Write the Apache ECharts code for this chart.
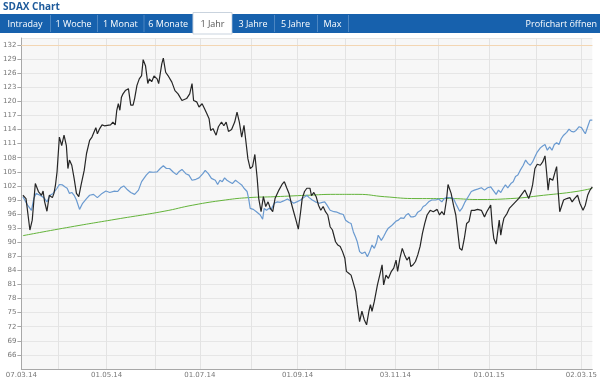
<!DOCTYPE html>
<html><head><meta charset="utf-8">
<script src="https://cdn.jsdelivr.net/npm/echarts@6/dist/echarts.min.js"></script>
<style>html,body{margin:0;padding:0;background:#fff}#c{width:600px;height:381px}</style>
</head><body><div id="c"></div>
<script>
// x values are calendar days counted from 07.03.14
const labelDays = [0, 55, 115, 178, 241, 301.5, 361];
const labelTexts = ['07.03.14', '01.05.14', '01.07.14', '01.09.14', '03.11.14', '01.01.15', '02.03.15'];
const monthDays = [24, 55, 86, 115, 148, 178, 208.5, 241, 269, 301.5, 332, 361];
const tabs = ['Intraday', '1 Woche', '1 Monat', '6 Monate', '1 Jahr', '3 Jahre', '5 Jahre', 'Max'];
const activeTab = '1 Jahr';

const blackData = [[1,100.0],[3,99.3],[5.5,92.6],[7,94.7],[9,102.5],[11,100.8],[13,100.0],[14,100.9],[15,98.6],[16.5,96.6],[18,100.0],[20,99.5],[21,100.4],[22,102.2],[23,105.0],[24.5,112.4],[26,110.6],[27.5,112.8],[29,110.6],[30,105.7],[31,107.5],[32.5,106.4],[34,103.6],[35.5,100.4],[37,99.7],[38.5,102.2],[40.5,105.3],[42,108.9],[44,111.7],[45.5,112.4],[46.5,112.1],[48,114.4],[49,113.1],[50.5,114.2],[52,115.0],[53.5,114.8],[55.5,114.9],[57.5,115.0],[59,115.6],[60.5,115.0],[61.5,118.1],[62.5,119.5],[63.5,118.1],[64.5,120.9],[65.5,121.6],[67,122.3],[69,122.7],[70.5,119.2],[72,119.2],[73,120.6],[74.5,123.4],[76,124.8],[77.5,125.5],[78.5,128.9],[80,127.6],[81.5,123.8],[82.5,124.8],[84,124.2],[85.5,125.4],[87.5,124.8],[88.5,123.8],[90.5,128.0],[91.5,129.2],[93,126.2],[94.5,125.5],[97,124.1],[99,122.3],[101,121.6],[103.5,120.2],[106.5,120.6],[108.5,121.6],[110,123.8],[111,120.2],[113,119.9],[114.5,118.8],[116.5,119.5],[118,118.5],[119.5,117.4],[121,116.3],[122,113.8],[123.5,114.2],[125.5,112.8],[127,114.6],[129,115.6],[130.5,114.8],[132,115.6],[133.5,113.6],[135.5,114.0],[137.5,115.6],[139,117.7],[140.5,115.6],[142,112.4],[143.5,114.9],[144.5,112.1],[146,107.8],[147.5,105.7],[149,106.1],[150.5,108.7],[152,103.6],[153,99.3],[154.5,96.5],[156,99.7],[157.5,97.6],[159,98.6],[160.5,97.2],[162,96.5],[163.5,99.3],[166,101.1],[168,102.3],[169.5,102.9],[171,101.6],[172.5,100.4],[174,98.3],[175.5,96.5],[177,94.7],[178.5,92.8],[180,96.5],[181,99.3],[182.5,100.8],[184,101.5],[186,101.5],[187,99.9],[188.5,100.6],[190,99.7],[191.5,97.9],[193,96.8],[194.5,97.6],[196,96.5],[197.5,95.8],[199,93.3],[200.5,92.6],[202.5,90.1],[204,89.4],[205.5,89.1],[207,88.0],[208.5,86.6],[209.5,83.8],[211,83.4],[212.5,83.0],[214,81.3],[215.5,79.5],[216.5,76.7],[218,73.1],[219.5,75.3],[221,73.5],[222.5,72.4],[224,75.3],[225,76.7],[226,75.3],[227.5,77.4],[229.5,80.9],[231,83.0],[232.5,85.2],[233.5,80.9],[235,83.0],[236.5,82.3],[238.5,83.8],[240,84.5],[241.5,86.2],[242.5,83.8],[244,86.6],[245.5,88.7],[247,87.3],[248.5,86.2],[250,86.9],[251,84.8],[252.5,85.2],[254,85.9],[255.5,87.3],[257,89.1],[258.5,91.9],[260,94.0],[261.5,95.8],[263.5,96.8],[265.5,96.5],[268,97.0],[269.5,95.8],[271,96.5],[272.5,95.8],[274,99.0],[275,102.3],[277,100.4],[278.5,97.9],[280,95.8],[281,93.0],[282.5,88.7],[284,88.3],[285.5,90.8],[287,94.0],[288.5,94.4],[290,96.8],[292,96.8],[294,97.0],[296.5,96.8],[298.5,95.4],[300,96.5],[302.5,97.9],[303.5,93.6],[304.5,90.8],[306,89.6],[307,89.8],[308,94.7],[309,91.5],[310,93.6],[311,95.1],[313,96.1],[314.5,97.2],[316.5,97.9],[318.5,98.6],[320.5,99.3],[322.5,100.2],[324.5,101.1],[325.5,101.5],[327,99.3],[328.5,100.8],[329.5,102.2],[331,105.7],[332.5,106.6],[334.5,106.4],[336,107.1],[337.5,108.4],[338.5,105.0],[339.5,101.1],[340.5,103.6],[342.5,103.2],[344,105.0],[345,106.1],[346,100.8],[347,96.5],[348,96.1],[349.5,99.0],[351.5,99.3],[353.5,99.5],[355,98.6],[356.5,99.3],[358.5,100.0],[360,98.3],[362,96.8],[363.5,97.9],[365,100.0],[366.5,101.1],[368,101.8]];

const blueData = [[1,99.7],[4,97.9],[6.5,96.8],[8,99.3],[9.5,100.4],[12,100.0],[14.5,99.5],[16.5,98.6],[18.5,100.0],[20.5,100.4],[23,101.5],[24.5,102.3],[26.5,102.2],[28,101.8],[29.5,101.5],[31,100.4],[32.5,100.6],[34,100.0],[35.5,99.0],[37.5,97.0],[39.5,98.3],[42,99.3],[44,100.0],[46.5,100.2],[49,99.5],[52,100.4],[54.5,100.9],[57,100.6],[60,100.9],[62,100.8],[64,101.6],[66,102.0],[68,101.3],[70.5,100.6],[73,100.2],[75.5,101.1],[77.5,102.9],[80.5,104.3],[82.5,105.0],[85,104.9],[87.5,105.0],[89.5,105.7],[91.5,106.3],[93.5,105.7],[95.5,105.7],[98,104.9],[100,104.4],[101.5,105.0],[103.5,105.5],[106,104.6],[108,104.3],[110,103.2],[112.5,103.4],[114.5,103.7],[117,104.6],[118.5,105.3],[120.5,104.6],[122.5,103.6],[125,103.2],[126.5,102.3],[128,103.2],[129.5,102.9],[131,103.7],[132.5,103.2],[134,102.9],[136,102.5],[138,103.2],[140,102.7],[142,102.2],[143.5,101.5],[145.5,100.8],[146.5,99.3],[147.5,97.2],[149.5,97.0],[151.5,96.5],[154,95.8],[155.5,94.9],[156.5,97.2],[158,96.8],[159.5,97.2],[161,97.0],[163,98.3],[165,98.6],[167,98.5],[169,98.8],[171.5,99.2],[173.5,98.8],[175.5,98.3],[177.5,98.6],[180,99.0],[182,99.5],[184,100.0],[185.5,99.5],[187.5,99.0],[189.5,98.6],[192,98.3],[194,98.5],[195.5,98.6],[197,97.9],[199,96.8],[201.5,96.5],[203.5,96.4],[205.5,96.1],[207.5,95.9],[209,94.7],[211,94.2],[212.5,94.0],[214,92.2],[215.5,91.0],[216.5,90.1],[218,88.0],[219.5,87.6],[221.5,87.9],[223,86.9],[224.5,88.0],[226,89.4],[227.5,88.7],[229,90.0],[230,91.5],[232,90.4],[233.5,91.2],[235,92.2],[236.5,93.0],[238.5,93.5],[240,94.0],[241.5,94.5],[243,94.7],[244.5,95.2],[246.5,95.1],[248,95.8],[249.5,96.1],[251,95.4],[252.5,95.4],[254,95.6],[255.5,96.4],[257.5,96.8],[259,97.6],[260.5,97.9],[262.5,98.6],[264.5,99.0],[267,99.0],[269,99.2],[271,98.6],[272.5,99.3],[274,99.5],[276.5,99.5],[278.5,99.3],[280.5,97.9],[282.5,96.6],[284,97.2],[286,98.6],[288,99.7],[290,100.8],[292,101.1],[294,101.3],[296.5,101.6],[298.5,101.1],[300.5,101.6],[302.5,101.8],[304.5,100.9],[306,100.2],[307.5,101.1],[309,100.6],[310.5,101.5],[312,102.2],[313.5,101.6],[315.5,102.5],[317,102.9],[318.5,104.0],[320,104.3],[321.5,105.3],[323.5,106.4],[325,107.5],[326.5,106.8],[328,106.4],[329.5,107.1],[331,108.2],[332.5,109.2],[334.5,110.1],[336,110.5],[337.5,110.8],[339,109.6],[340.5,110.3],[342,109.6],[343.5,110.8],[345,111.2],[346.5,110.8],[348,112.1],[349.5,112.8],[351.5,113.4],[353,114.1],[354.5,113.6],[356,113.5],[357.5,113.8],[359.5,114.6],[361,114.4],[362.5,113.6],[363.5,113.1],[365,114.6],[366.5,116.0],[368,116.0]];

const greenData = [[1,91.4],[29,93.1],[61,94.9],[92,96.6],[110.5,97.9],[131.5,99.0],[146.5,99.5],[163.5,99.7],[184,100.0],[202.5,100.2],[217,100.2],[234,99.7],[255,99.3],[276,99.3],[294,99.1],[315.5,99.3],[336.5,100.0],[357.5,100.8],[368,101.5]];

const tabEdges = [0, 50, 97, 143.5, 193, 232, 274, 317, 348];

const graphic = [
  {type:'text', left:3, top:2, style:{text:'SDAX Chart', font:'bold 10px "Open Sans"', fill:'#1d5a9b'}},
  {type:'rect', shape:{x:0, y:14, width:600, height:19}, style:{fill:'#1761ad'}}
];
tabs.forEach((t, i) => {
  const x0 = tabEdges[i], x1 = tabEdges[i+1];
  const active = t === activeTab;
  if (active) {
    graphic.push({type:'rect', shape:{x:x0, y:12.5, width:x1-x0, height:21.5}, style:{fill:'#ffffff', stroke:'#c9d3de', lineWidth:1}});
  }
  graphic.push({type:'line', shape:{x1:x1+0.5, y1:15, x2:x1+0.5, y2:32}, style:{stroke:'#4c86c2', lineWidth:1}});
  graphic.push({type:'text', x:(x0+x1)/2, y:24, style:{text:t, font:'9px "Open Sans"', fill: active ? '#555555' : '#ffffff', align:'center', verticalAlign:'middle'}});
});
graphic.push({type:'text', x:597, y:24, style:{text:'Profichart öffnen', font:'9px "Open Sans"', fill:'#ffffff', align:'right', verticalAlign:'middle'}});

const chart = echarts.init(document.getElementById('c'), null, {renderer:'canvas'});
chart.setOption({
  animation:false,
  backgroundColor:'#ffffff',
  graphic: graphic,
  grid:{left:19, right:0, top:38, bottom:12, show:true, backgroundColor:'#f7f7f7', borderWidth:0},
  xAxis:{
    type:'value', min:0, max:368,
    axisLine:{show:true, lineStyle:{color:'#a8a8a8'}},
    axisTick:{show:false, customValues: monthDays},
    splitLine:{show:true, lineStyle:{color:'#e3e3e3'}},
    axisLabel:{customValues: labelDays, margin:3, fontSize:7, fontFamily:'DejaVu Sans', color:'#777',
      formatter: v => labelTexts[labelDays.indexOf(v)] || ''}
  },
  yAxis:{
    type:'value', min:63, max:133.5, interval:3,
    axisLine:{show:true, lineStyle:{color:'#a8a8a8'}},
    axisTick:{show:true, inside:false, length:4, lineStyle:{color:'#a8a8a8'}},
    splitLine:{show:true, lineStyle:{color:'#e6e6e6'}},
    axisLabel:{showMinLabel:false, showMaxLabel:false, margin:5, fontSize:7, fontFamily:'DejaVu Sans', color:'#777'}
  },
  series:[
    {type:'line', data:greenData, smooth:true, symbol:'none', lineStyle:{color:'#63b33a', width:1}, z:2,
     markLine:{silent:true, symbol:['none','none'], label:{show:false}, lineStyle:{color:'#f3d6b3', type:'solid', width:1}, data:[{yAxis:132}]}},
    {type:'line', data:blueData, symbol:'none', lineStyle:{color:'#6a9ad0', width:1.2}, z:3},
    {type:'line', data:blackData, symbol:'none', lineStyle:{color:'#262626', width:1.2}, z:4}
  ]
});
</script></body></html>
